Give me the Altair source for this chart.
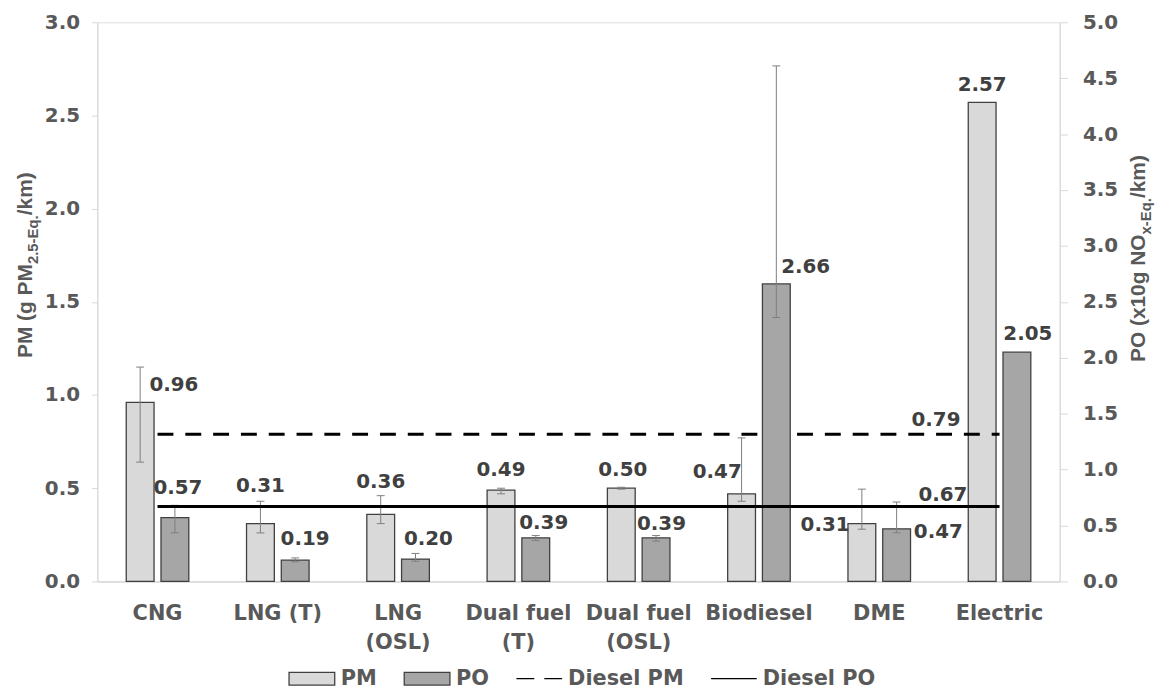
import json
import altair as alt
import pandas as pd

# ---------------- data ----------------
categories = ["CNG", "LNG (T)", "LNG (OSL)", "Dual fuel (T)", "Dual fuel (OSL)",
              "Biodiesel", "DME", "Electric"]
category_label_lines = [["CNG"], ["LNG (T)"], ["LNG", "(OSL)"], ["Dual fuel", "(T)"],
                        ["Dual fuel", "(OSL)"], ["Biodiesel"], ["DME"], ["Electric"]]

pm_values = [0.96, 0.31, 0.36, 0.49, 0.50, 0.47, 0.31, 2.57]
pm_err_low = [0.64, 0.26, 0.31, 0.47, 0.495, 0.43, 0.28, None]
pm_err_high = [1.15, 0.43, 0.46, 0.50, 0.505, 0.77, 0.495, None]

po_values = [0.57, 0.19, 0.20, 0.39, 0.39, 2.66, 0.47, 2.05]
po_err_low = [0.435, 0.175, 0.18, 0.365, 0.36, 2.36, 0.435, None]
po_err_high = [0.68, 0.21, 0.25, 0.41, 0.41, 4.61, 0.71, None]

diesel_pm = 0.79
diesel_po = 0.67

left_ticks = [0.0, 0.5, 1.0, 1.5, 2.0, 2.5, 3.0]
right_ticks = [0.0, 0.5, 1.0, 1.5, 2.0, 2.5, 3.0, 3.5, 4.0, 4.5, 5.0]

legend_names = ["PM", "PO", "Diesel PM", "Diesel PO"]

left_title_pieces = [("PM (g PM", False), ("2.5-Eq.", True), ("/km)", False)]
right_title_pieces = [("PO (x10g NO", False), ("x-Eq.", True), ("/km)", False)]

# ---------------- style ----------------
NUM_FONT = "DejaVu Sans"
TITLE_FONT = "Liberation Sans"
GREY_TXT = "#595959"
DARK_TXT = "#404040"
AXIS_GREY = "#d9d9d9"
PM_FILL = "#d9d9d9"
PO_FILL = "#a6a6a6"
BAR_STROKE = "#404040"
ERR_COLOR = "#7f7f7f"

W, H = 969, 563
BAR_W = 28
PM_SHIFT, PO_SHIFT = -17.5, 17.5

# label offsets (px) relative to the top centre of each bar
pm_label_dx = [34, 0, 0, 0, 1.5, -24.5, -37, 0]
pm_label_dy = [-18, -38, -32, -20, -18.5, -22, 1.7, -17.5]
po_label_dx = [3, 10, 13, 8, 5.5, 29.5, 42, 11]
po_label_dy = [-30, -21.5, -20.5, -14.5, -13.5, -17.5, 3, -18]
line_label_dx = {"pm": -64, "po": -57}
line_label_dy = {"pm": -14, "po": -12}

# Arial/Liberation Sans Bold advance widths (1/1000 em)
ARIAL_BOLD = {'P': 667, 'M': 833, ' ': 278, '(': 333, 'g': 611, '2': 556, '.': 278,
              '5': 556, '-': 333, 'E': 667, 'q': 611, '/': 278, 'k': 556, 'm': 889,
              ')': 333, 'O': 778, 'x': 556, '1': 556, '0': 556, 'N': 722}
TITLE_MAIN, TITLE_SUB = 21, 15


def text_len(s, size):
    return sum(ARIAL_BOLD.get(c, 556) for c in s) / 1000 * size


# ---------------- frames ----------------
pm_df = pd.DataFrame({"category": categories, "value": pm_values, "low": pm_err_low,
                      "high": pm_err_high, "ldx": pm_label_dx, "ldy": pm_label_dy})
po_df = pd.DataFrame({"category": categories, "value": po_values, "low": po_err_low,
                      "high": po_err_high, "ldx": po_label_dx, "ldy": po_label_dy})
dpm_df = pd.DataFrame({"category": categories, "value": [diesel_pm] * len(categories)})
dpo_df = pd.DataFrame({"category": categories, "value": [diesel_po] * len(categories)})
legend_df = pd.DataFrame({"series": legend_names})

label_lookup = json.dumps(dict(zip(categories, category_label_lines)))

x_enc = alt.X("category:N", sort=categories,
              scale=alt.Scale(paddingInner=0, paddingOuter=0),
              axis=alt.Axis(title=None, labelAngle=0, ticks=False, domainColor=AXIS_GREY,
                            domainWidth=1.5, labelFont=NUM_FONT, labelFontSize=21,
                            labelFontWeight="bold", labelColor=GREY_TXT, labelPadding=21,
                            labelLineHeight=30, labelOverlap=False, labelBound=False,
                            labelLimit=300,
                            labelExpr=label_lookup + "[datum.value]"))


def y_enc(field, domain, ticks, orient, tick_size, pad):
    return alt.Y(field, scale=alt.Scale(domain=domain, nice=False, zero=True),
                 axis=alt.Axis(orient=orient, values=ticks, format=".1f", title=None,
                               grid=False, domainColor=AXIS_GREY, tickColor=AXIS_GREY,
                               tickSize=tick_size, labelPadding=pad, labelFont=NUM_FONT,
                               labelFontSize=20, labelFontWeight="bold",
                               labelColor=GREY_TXT))


def series_layers(df, line_df, fill, shift, domain, ticks, orient, tick_size, pad,
                  dash, key):
    yv = y_enc("value:Q", domain, ticks, orient, tick_size, pad)
    ylo = y_enc("low:Q", domain, ticks, orient, tick_size, pad)
    yhi = y_enc("high:Q", domain, ticks, orient, tick_size, pad)
    bars = alt.Chart(df).mark_bar(width=BAR_W, xOffset=shift, fill=fill,
                                  stroke=BAR_STROKE, strokeWidth=1.3).encode(x=x_enc, y=yv)
    err_base = alt.Chart(df).transform_filter("isValid(datum.low) && isFinite(datum.low)")
    rule = err_base.mark_rule(xOffset=shift, color=ERR_COLOR, strokeWidth=1).encode(
        x=x_enc, y=ylo, y2="high:Q")
    cap_lo = err_base.mark_tick(xOffset=shift, color=ERR_COLOR, size=8, thickness=1,
                                opacity=1).encode(x=x_enc, y=ylo)
    cap_hi = err_base.mark_tick(xOffset=shift, color=ERR_COLOR, size=8, thickness=1,
                                opacity=1).encode(x=x_enc, y=yhi)
    labels = alt.Chart(df).mark_text(
        xOffset=shift, dx={"expr": "datum.ldx"}, dy={"expr": "datum.ldy"},
        font=NUM_FONT, fontSize=20, fontWeight="bold", color=DARK_TXT,
        align="center", baseline="middle").encode(
        x=x_enc, y=yv, text=alt.Text("value:Q", format=".2f"))
    line_kw = dict(color="black", strokeWidth=3)
    if dash:
        line_kw["strokeDash"] = dash
    line = alt.Chart(line_df).mark_line(**line_kw).encode(x=x_enc, y=yv)
    line_label = alt.Chart(line_df.tail(1)).mark_text(
        dx=line_label_dx[key], dy=line_label_dy[key], font=NUM_FONT, fontSize=20,
        fontWeight="bold", color=DARK_TXT, align="center", baseline="middle").encode(
        x=x_enc, y=yv, text=alt.Text("value:Q", format=".2f"))
    return [bars, rule, cap_lo, cap_hi, line, labels, line_label]


def title_layers(pieces, start_y, main_x, sub_x):
    out = []
    y = start_y
    for txt, is_sub in pieces:
        size = TITLE_SUB if is_sub else TITLE_MAIN
        out.append(alt.Chart(pd.DataFrame({"t": [txt]})).mark_text(
            angle=270, align="left", baseline="alphabetic", font=TITLE_FONT,
            fontSize=size, fontWeight="bold", color=GREY_TXT).encode(
            x=alt.value(sub_x if is_sub else main_x), y=alt.value(y), text="t:N"))
        y -= text_len(txt, size)
    return out


# legend (hidden point layer, custom symbols)
rect_path = "M-1,-0.28H1V0.28H-1Z"
dash_path = "M-1,0H-0.22M0.22,0H1"
solid_path = "M-1,0H1"
legend_cfg = alt.Legend(
    title=None, orient="none", legendX=192, legendY=637, direction="horizontal",
    symbolSize=2116, symbolOpacity=1, labelFont=NUM_FONT, labelFontSize=21,
    labelFontWeight="bold", labelColor=GREY_TXT, labelOffset=5, columnPadding=24,
    padding=0, labelLimit=300)
legend_layer = alt.Chart(legend_df).mark_point(opacity=0).encode(
    shape=alt.Shape("series:N", scale=alt.Scale(domain=legend_names,
                    range=[rect_path, rect_path, dash_path, solid_path]), legend=legend_cfg),
    fill=alt.Fill("series:N", scale=alt.Scale(domain=legend_names,
                  range=[PM_FILL, PO_FILL, "transparent", "transparent"]), legend=legend_cfg),
    stroke=alt.Stroke("series:N", scale=alt.Scale(domain=legend_names,
                      range=[BAR_STROKE, BAR_STROKE, "black", "black"]), legend=legend_cfg),
    strokeWidth=alt.StrokeWidth("series:N", scale=alt.Scale(domain=legend_names,
                                range=[1.3, 1.3, 3, 3]), legend=legend_cfg),
)

left = alt.layer(*series_layers(pm_df, dpm_df, PM_FILL, PM_SHIFT, [0, 3], left_ticks,
                                "left", 6, 12, [16, 12], "pm"),
                 *title_layers(left_title_pieces, 338, -66, -59.5),
                 legend_layer)
right = alt.layer(*series_layers(po_df, dpo_df, PO_FILL, PO_SHIFT, [0, 5], right_ticks,
                                 "right", 8, 15, None, "po"),
                  *title_layers(right_title_pieces, 342, 1055, 1061))

chart = alt.layer(left, right).resolve_scale(y="independent").properties(
    width=W, height=H, autosize="none",
    padding={"left": 90, "top": 12, "right": 97, "bottom": 109},
).configure_view(stroke=None).configure(background="white")

chart.save("out.html", embed_options={"renderer": "svg", "actions": False})
